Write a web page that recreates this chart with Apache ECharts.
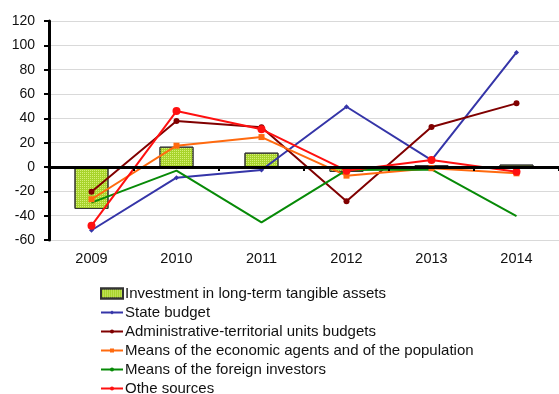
<!DOCTYPE html>
<html>
<head>
<meta charset="utf-8">
<script src="https://cdn.jsdelivr.net/npm/echarts@6/dist/echarts.min.js"></script>
<style>
  html, body { margin: 0; padding: 0; background: #fff; }
  #chart { width: 559px; height: 394px; }
</style>
</head>
<body>
<div id="chart"></div>
<script>
// Years on the category axis
const years = ['2009', '2010', '2011', '2012', '2013', '2014'];

// Value axis ticks
const yMin = -60;
const yMax = 120;
const yStep = 20;

// Series names
const barName = 'Investment in long-term tangible assets';
const lineNames = [
  'State budget',
  'Administrative-territorial units budgets',
  'Means of the economic agents and of the population',
  'Means of the foreign investors',
  'Othe sources'
];

// Series values (%)
const investment = [-34.5, 16.7, 11.8, -4.0, 1.5, 2.0];
const stateBudget = [-52.0, -8.8, -2.5, 49.5, 5.7, 94.2];
const adminBudgets = [-20.3, 37.8, 32.6, -28.2, 32.9, 52.3];
const economicAgents = [-26.5, 17.5, 24.6, -7.1, -1.0, -5.2];
const foreignInvestors = [-29.3, -3.0, -45.5, -2.5, -2.0, -40.3];
const otherSources = [-48.2, 46.0, 31.0, -3.0, 5.8, -3.9];

const font = 'Liberation Sans, Arial, sans-serif';
const legendText = { fontFamily: font, fontSize: 15, color: '#111', lineHeight: 19, padding: [0, 0, 0, -3] };

function lineSeries(name, data, color, symbol, size) {
  return {
    name, type: 'line', data, xAxisIndex: 0,
    symbol, symbolSize: size, showSymbol: symbol !== 'none',
    lineStyle: { color, width: 2 },
    itemStyle: { color },
    z: 5
  };
}

const chart = echarts.init(document.getElementById('chart'), null, { renderer: 'canvas' });
chart.setOption({
  animation: false,
  textStyle: { fontFamily: font },
  grid: { left: 49, top: 21, width: 512, height: 219, containLabel: false },
  legend: [
    {
      orient: 'vertical', left: 100, top: 284, padding: 0,
      itemGap: 0, itemWidth: 22, itemHeight: 10,
      textStyle: legendText,
      data: [{ name: barName, icon: 'rect' }]
    },
    {
      orient: 'vertical', left: 100, top: 303, padding: 0, height: 120,
      itemGap: 0, itemWidth: 22, itemHeight: 5,
      textStyle: legendText,
      data: lineNames
    }
  ],
  xAxis: [
    {
      type: 'category', data: years, position: 'bottom',
      axisLine: { onZero: true, lineStyle: { color: '#000', width: 3 } },
      axisTick: { show: true, length: 4, lineStyle: { color: '#000', width: 2 } },
      axisLabel: { show: false },
      z: 10
    },
    {
      type: 'category', data: years, position: 'bottom',
      axisLine: { show: false, onZero: false },
      axisTick: { show: false },
      axisLabel: { show: true, fontSize: 14.5, color: '#111', margin: 11, fontFamily: font }
    }
  ],
  yAxis: {
    type: 'value', min: yMin, max: yMax, interval: yStep,
    axisLine: { show: true, onZero: false, lineStyle: { color: '#000', width: 3 } },
    axisTick: { show: true, length: 5, lineStyle: { color: '#000', width: 2 } },
    axisLabel: { fontSize: 14, color: '#111', margin: 14, fontFamily: font },
    splitLine: { show: true, lineStyle: { color: '#d9d9d9', width: 1 } }
  },
  series: [
    {
      name: barName,
      type: 'bar', data: investment, xAxisIndex: 0, barWidth: '40%',
      itemStyle: {
        color: '#a8d42c', borderColor: '#333', borderWidth: 1,
        decal: { symbol: 'rect', symbolSize: 1, color: 'rgba(225,245,140,0.8)', dashArrayX: [1, 1], dashArrayY: [1, 1] }
      },
      z: 2
    },
    lineSeries(lineNames[0], stateBudget, '#3535a8', 'diamond', 5),
    lineSeries(lineNames[1], adminBudgets, '#800000', 'circle', 6),
    lineSeries(lineNames[2], economicAgents, '#ff6a0f', 'rect', 6),
    lineSeries(lineNames[3], foreignInvestors, '#078a07', 'none', 0),
    lineSeries(lineNames[4], otherSources, '#ff1010', 'circle', 8)
  ]
});
</script>
</body>
</html>
